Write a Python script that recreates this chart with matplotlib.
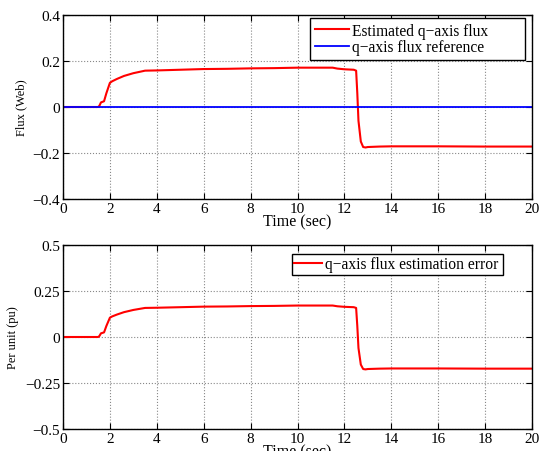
import numpy as np
import matplotlib
matplotlib.use("Agg")
import matplotlib.pyplot as plt

plt.rcParams['font.family'] = ['Liberation Serif', 'DejaVu Serif']
plt.rcParams['axes.unicode_minus'] = True

# digitised q-axis flux estimate (Web), reference is zero
t = [0, 1.5, 1.55, 1.62, 1.75, 1.85, 2.0, 2.1, 2.3, 2.6, 3.0, 3.5, 4.0, 5.0, 6.0, 7.0,
     8.0, 9.0, 10.0, 11.0, 11.5, 11.7, 12.0, 12.4, 12.5, 12.55, 12.6, 12.7, 12.8, 12.9,
     13.0, 13.5, 14.0, 16.0, 18.0, 20.0]
flux_est = [0, 0, 0.005, 0.02, 0.025, 0.06, 0.105, 0.112, 0.122, 0.135, 0.147, 0.158,
            0.159, 0.162, 0.165, 0.166, 0.168, 0.169, 0.171, 0.171, 0.171, 0.167, 0.164,
            0.162, 0.158, 0.06, -0.06, -0.15, -0.174, -0.176, -0.174, -0.172, -0.171,
            -0.171, -0.172, -0.172]
flux_ref = [0, 0]
t_ref = [0, 20]
err_pu = flux_est  # error equals estimate since reference is zero

fig = plt.figure(figsize=(5.41, 4.52), dpi=100)
ax1 = fig.add_axes([63 / 541, 1 - 200 / 452, 469 / 541, 184 / 452])
ax2 = fig.add_axes([63 / 541, 1 - 430 / 452, 469 / 541, 184 / 452])

ax1.plot(t, flux_est, color='red', lw=1.5, label='Estimated q\u2212axis flux')
ax1.plot(t_ref, flux_ref, color='blue', lw=1.3, label='q\u2212axis flux reference')
ax1.set_xlim(0, 20)
ax1.set_ylim(-0.4, 0.4)
ax1.set_yticks([-0.4, -0.2, 0, 0.2, 0.4])
ax1.set_yticklabels(['\u22120.4', '\u22120.2', '0', '0.2', '0.4'])
ax1.set_ylabel('Flux (Web)', fontsize=9, labelpad=4)
ax1.legend(loc='upper left', fontsize=11.2, frameon=True, fancybox=False,
           edgecolor='black', framealpha=1, handlelength=2.2, borderaxespad=0,
           labelspacing=0.05, handletextpad=0.2, borderpad=0.3,
           mode='expand', bbox_to_anchor=(0.527, 0.5, 0.458, 0.484))

ax2.plot(t, err_pu, color='red', lw=1.5, label='q\u2212axis flux estimation error')
ax2.set_xlim(0, 20)
ax2.set_ylim(-0.5, 0.5)
ax2.set_yticks([-0.5, -0.25, 0, 0.25, 0.5])
ax2.set_yticklabels(['\u22120.5', '\u22120.25', '0', '0.25', '0.5'])
ax2.set_ylabel('Per unit (pu)', fontsize=9, labelpad=4)
ax2.legend(loc='upper left', fontsize=11.2, frameon=True, fancybox=False,
           edgecolor='black', framealpha=1, handlelength=1.8, borderaxespad=0.0,
           handletextpad=0.15, borderpad=0.15,
           mode='expand', bbox_to_anchor=(0.488, 0.5, 0.45, 0.451))

for ax in (ax1, ax2):
    ax.set_xticks(range(0, 21, 2))
    ax.set_xlabel('Time (sec)', fontsize=11.5, labelpad=-1)
    ax.grid(True, linestyle=':', color='#888888', lw=0.8)
    ax.tick_params(direction='in', labelsize=11, length=4, top=True, right=True, pad=2)
    for s in ax.spines.values():
        s.set_linewidth(1.0)

fig.savefig('out.png', dpi=100)
